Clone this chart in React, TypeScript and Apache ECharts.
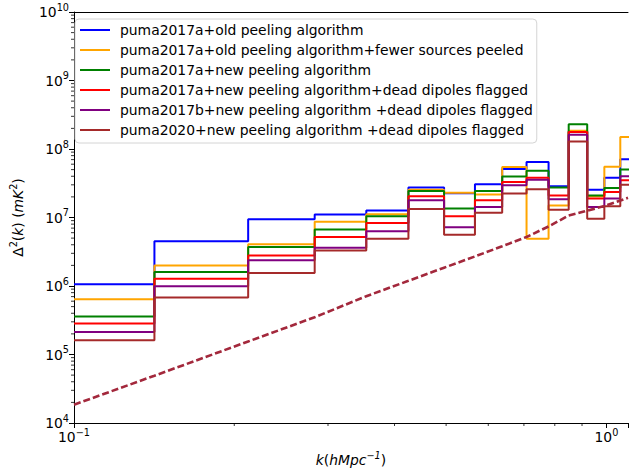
import React, { useEffect, useRef } from "react";
import * as echarts from "echarts";

// Bin edges in k (h Mpc^-1); each power-spectrum value covers one bin.
const kEdges = [0.1, 0.1416, 0.2124, 0.2832, 0.354, 0.4248, 0.4956, 0.5664, 0.6372, 0.708, 0.7788, 0.8496, 0.9204, 0.9912, 1.062, 1.133];

const seriesNames = [
  "puma2017a+old peeling algorithm",
  "puma2017a+old peeling algorithm+fewer sources peeled",
  "puma2017a+new peeling algorithm",
  "puma2017a+new peeling algorithm+dead dipoles flagged",
  "puma2017b+new peeling algorithm +dead dipoles flagged",
  "puma2020+new peeling algorithm +dead dipoles flagged",
];
const seriesColors = ["#0000ff", "#ffa500", "#008000", "#ff0000", "#800080", "#a52a2a"];

// Delta^2(k) in mK^2, one value per bin
const oldPeel = [1.06e6, 4.5e6, 9.4e6, 1.11e7, 1.27e7, 2.73e7, 2.26e7, 3.05e7, 5.1e7, 6.45e7, 2.85e7, 1.8e8, 2.55e7, 3.8e7, 7.1e7];
const oldPeelFewer = [6.4e5, 2.0e6, 4.07e6, 8.7e6, 1.12e7, 2.55e7, 2.3e7, 2.16e7, 5.46e7, 4.9e6, 1.5e7, 1.85e8, 2.05e7, 5.5e7, 1.5e8];
const newPeel = [3.6e5, 1.6e6, 3.7e6, 6.7e6, 1.04e7, 2.44e7, 1.35e7, 2.44e7, 3.97e7, 4.8e7, 2.73e7, 2.3e8, 2.1e7, 2.7e7, 5.0e7];
const newPeelFlagged = [2.83e5, 1.28e6, 2.78e6, 5.2e6, 8.3e6, 2.04e7, 1.04e7, 1.78e7, 3.3e7, 3.8e7, 2.1e7, 1.77e8, 1.89e7, 2.35e7, 3.5e7];
const puma2017bFlagged = [2.13e5, 9.9e5, 2.37e6, 3.63e6, 6.3e6, 1.78e7, 7.2e6, 1.42e7, 2.95e7, 3.57e7, 1.85e7, 1.62e8, 1.42e7, 1.9e7, 4.0e7];
const puma2020Flagged = [1.61e5, 6.8e5, 1.55e6, 3.3e6, 4.9e6, 1.33e7, 5.6e6, 1.17e7, 2.24e7, 2.58e7, 1.3e7, 1.29e8, 9.6e6, 1.46e7, 3.0e7];
const seriesValues = [oldPeel, oldPeelFewer, newPeel, newPeelFlagged, puma2017bFlagged, puma2020Flagged];

// Thermal noise curve
const noiseK = [0.1, 0.1416, 0.2124, 0.2832, 0.354, 0.4248, 0.4956, 0.5664, 0.6372, 0.708, 0.7788, 0.8496, 0.911, 0.9912, 1.098];
const noiseVals = [1.85e4, 4.9e4, 1.55e5, 3.5e5, 7.1e5, 1.19e6, 1.85e6, 2.7e6, 3.8e6, 5.2e6, 7.4e6, 1.07e7, 1.23e7, 1.47e7, 1.94e7];

// Axis ticks
const xMin = 0.1;
const xMax = 1.098;
const yMin = 1e4;
const yMax = 1e10;
const xTicks = [0.1, 1];
const xTickBases = ["10", "10"];
const xTickExps = ["\u22121", "0"];
const yTicks = [1e4, 1e5, 1e6, 1e7, 1e8, 1e9, 1e10];
const yTickBases = ["10", "10", "10", "10", "10", "10", "10"];
const yTickExps = ["4", "5", "6", "7", "8", "9", "10"];
const minorMantissas = [2, 3, 4, 5, 6, 7, 8, 9];
const xMinorDecades = [0.1];
const yMinorDecades = [1e4, 1e5, 1e6, 1e7, 1e8, 1e9];

const FONT = "DejaVu Sans";
const FS = 13.9;

// rich-text styles: base text and raised superscript
const richStyles = {
  b: { fontSize: FS, fontFamily: FONT, color: "#000", lineHeight: 20 },
  i: { fontSize: FS, fontFamily: FONT, color: "#000", lineHeight: 20, fontStyle: "italic" },
  s: { fontSize: 9.7, fontFamily: FONT, color: "#000", lineHeight: 10, verticalAlign: "top" },
  si: { fontSize: 9.7, fontFamily: FONT, color: "#000", lineHeight: 10, verticalAlign: "top", fontStyle: "italic" },
};

function tickLabel(ticks: number[], bases: string[], exps: string[]) {
  return (v: number) => {
    const i = ticks.findIndex((t) => Math.abs(Math.log10(t) - Math.log10(v)) < 1e-6);
    return i >= 0 ? `{b|${bases[i]}}{s|${exps[i]}}` : "";
  };
}

function stepPoints(vals: number[]) {
  const pts = vals.map((v, i) => [kEdges[i], v]);
  pts.push([kEdges[vals.length], vals[vals.length - 1]]);
  return pts;
}

const xMinorData: number[][] = [];
xMinorDecades.forEach((d) => minorMantissas.forEach((m) => {
  if (d * m < xMax) xMinorData.push([d * m, yMin]);
}));
const yMinorData: number[][] = [];
yMinorDecades.forEach((d) => minorMantissas.forEach((m) => yMinorData.push([xMin, d * m])));

export default function App() {
  const ref = useRef<HTMLDivElement>(null);

  useEffect(() => {
    const chart = echarts.init(ref.current!, undefined, { renderer: "svg" });

    const stepSeries = seriesNames.map((name, i) => ({
      name,
      type: "line",
      step: "end",
      data: stepPoints(seriesValues[i]),
      showSymbol: false,
      symbol: "none",
      color: seriesColors[i],
      lineStyle: { color: seriesColors[i], width: 2 },
      z: 3 + i,
      clip: true,
    }));

    const option: any = {
      animation: false,
      backgroundColor: "#ffffff",
      textStyle: { fontFamily: FONT },
      grid: { left: 68, top: 12, width: 565, height: 411, containLabel: false },
      xAxis: [
        {
          type: "log",
          logBase: 10,
          min: xMin,
          max: xMax,
          position: "bottom",
          name: "{i|k}{b|(}{i|hMpc}{si|\u22121}{b|)}",
          nameLocation: "middle",
          nameGap: 27,
          nameTextStyle: { color: "#000", fontSize: FS, rich: richStyles },
          axisLine: { show: true, onZero: false, lineStyle: { color: "#000", width: 1 } },
          axisTick: { show: true, length: 5, lineStyle: { color: "#000", width: 1 } },
          axisLabel: {
            color: "#000",
            fontSize: FS,
            fontFamily: FONT,
            margin: 4,
            formatter: tickLabel(xTicks, xTickBases, xTickExps),
            rich: richStyles,
          },
          splitLine: { show: false },
          minorTick: { show: false },
        },
        {
          type: "log",
          logBase: 10,
          min: xMin,
          max: xMax,
          position: "top",
          axisLine: { show: true, onZero: false, lineStyle: { color: "#000", width: 1 } },
          axisTick: { show: false },
          axisLabel: { show: false },
          splitLine: { show: false },
        },
      ],
      yAxis: {
        type: "log",
        logBase: 10,
        min: yMin,
        max: yMax,
        name: "{b|\u0394}{s|2}{b|(}{i|k}{b|) (}{i|mK}{s|2}{b|)}",
        nameLocation: "middle",
        nameGap: 46,
        nameRotate: 90,
        nameTextStyle: { color: "#000", fontSize: FS, rich: richStyles },
        axisLine: { show: true, onZero: false, lineStyle: { color: "#000", width: 1 } },
        axisTick: { show: true, length: 5, lineStyle: { color: "#000", width: 1 } },
        axisLabel: {
          color: "#000",
          fontSize: FS,
          fontFamily: FONT,
          margin: 5,
          formatter: tickLabel(yTicks, yTickBases, yTickExps),
          rich: richStyles,
        },
        splitLine: { show: false },
      },
      legend: {
        data: seriesNames,
        orient: "vertical",
        left: 75,
        top: 19,
        itemWidth: 30,
        itemHeight: 2,
        itemGap: 0,
        icon: "rect",
        padding: [1, 4, 3, 5],
        backgroundColor: "rgba(255,255,255,0.8)",
        borderColor: "#d4d4d4",
        borderWidth: 1,
        borderRadius: 4,
        textStyle: {
          color: "#000",
          fontSize: FS,
          fontFamily: FONT,
          lineHeight: 20,
          padding: [0, 0, 0, 5],
        },
      },
      series: [
        ...stepSeries,
        {
          name: "noise",
          type: "line",
          data: noiseK.map((k, i) => [k, noiseVals[i]]),
          showSymbol: false,
          symbol: "none",
          color: "#a3283c",
          lineStyle: { color: "#a3283c", width: 2.6, type: [7, 3] },
          z: 10,
          clip: true,
        },
        {
          name: "xMinorTicks",
          type: "custom",
          clip: false,
          silent: true,
          z: 20,
          data: xMinorData,
          renderItem: (_p: any, api: any) => {
            const pt = api.coord([api.value(0), api.value(1)]);
            return {
              type: "line",
              shape: { x1: pt[0], y1: pt[1], x2: pt[0], y2: pt[1] + 3 },
              style: { stroke: "#000", lineWidth: 0.8 },
            };
          },
        },
        {
          name: "yMinorTicks",
          type: "custom",
          clip: false,
          silent: true,
          z: 20,
          data: yMinorData,
          renderItem: (_p: any, api: any) => {
            const pt = api.coord([api.value(0), api.value(1)]);
            return {
              type: "line",
              shape: { x1: pt[0], y1: pt[1], x2: pt[0] - 3, y2: pt[1] },
              style: { stroke: "#000", lineWidth: 0.8 },
            };
          },
        },
      ],
    };

    chart.setOption(option);
    return () => chart.dispose();
  }, []);

  return (
    <div
      ref={ref}
      style={{ position: "fixed", left: 0, top: 0, width: 631, height: 473, background: "#ffffff" }}
    />
  );
}
